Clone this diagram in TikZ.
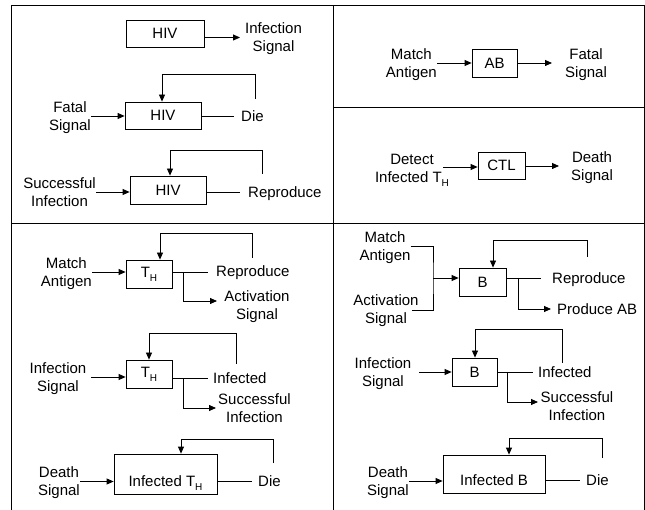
\documentclass[tikz,border=0pt]{standalone}
\usepackage{fontspec}
\setmainfont{Liberation Sans}
\usetikzlibrary{arrows.meta}
\newcommand\lowH{\raisebox{-4pt}{\fontsize{10}{10}\selectfont H}}
\begin{document}
\begin{tikzpicture}[x=1pt,y=-1pt,
  box/.style={draw,line width=0.8pt,inner sep=0pt,font=\fontsize{15}{18}\selectfont},
  lbl/.style={inner sep=0pt,align=center,text depth=0pt,font=\fontsize{15}{18}\selectfont},
  ln/.style={line width=0.8pt},
  arr/.style={line width=0.8pt,-{Triangle[length=7pt,width=6pt]}}]
\useasboundingbox (0,0) rectangle (645,510);
% frame
\draw[ln] (11,515) -- (11,5) -- (644,5) -- (644,515);
\draw[ln] (333,5) -- (333,515);
\draw[ln] (11,223) -- (644,223);
\draw[ln] (333,107) -- (644,107);

% ---------- top left ----------
\node[box,minimum width=78pt,minimum height=27pt] (hiv1) at (165,33.5) {HIV};
\node[lbl,anchor=west] (inf1) at (245,37.5) {Infection\\Signal};
\draw[arr,shorten >=5pt] (hiv1.east |- inf1.west) -- (inf1.west);

\node[lbl,anchor=east] (fs1) at (91,116) {Fatal\\Signal};
\node[box,minimum width=76pt,minimum height=27pt] (hiv2) at (163,115.5) {HIV};
\node[lbl,anchor=west] (die2) at (241,116) {Die};
\draw[arr] (fs1.east) -- (fs1.east -| hiv2.west);
\draw[ln,shorten >=7pt] (hiv2.east |- die2.west) -- (die2.west);
\coordinate (fb2) at (255,99); \coordinate (fc2) at (162,74);
\draw[arr] (fb2) |- (fc2) -- (fc2 |- hiv2.north);

\node[lbl,anchor=east] (si3) at (96,192) {Successful\\Infection};
\node[box,minimum width=76pt,minimum height=28pt] (hiv3) at (168,190) {HIV};
\node[lbl,anchor=west] (rep3) at (248,192) {Reproduce};
\draw[arr] (si3.east) -- (si3.east -| hiv3.west);
\draw[ln,shorten >=8pt] (hiv3.east |- rep3.west) -- (rep3.west);
\coordinate (fb3) at (262,174); \coordinate (fc3) at (170,150);
\draw[arr] (fb3) |- (fc3) -- (fc3 |- hiv3.north);

% ---------- top right ----------
\node[lbl,anchor=east] (ma2) at (437,63) {Match\\Antigen};
\node[box,minimum width=45pt,minimum height=28pt] (ab) at (494.5,63) {AB};
\node[lbl,anchor=west] (fs2) at (565,63) {Fatal\\Signal};
\draw[arr] (ma2.east) -- (ma2.east -| ab.west);
\draw[arr,shorten >=13pt] (ab.east |- fs2.west) -- (fs2.west);

\node[lbl] (dit) at (412,168) {Detect\\Infected T\lowH};
\node[box,minimum width=47pt,minimum height=27pt] (ctl) at (501.5,165.5) {CTL};
\node[lbl,anchor=west] (dsig) at (571,166) {Death\\Signal};
\coordinate (ci) at (443,167);
\draw[arr] (ci) -- (ci -| ctl.west);
\draw[arr,shorten >=12pt] (ctl.east |- dsig.west) -- (dsig.west);

% ---------- bottom left ----------
\node[lbl,anchor=east] (ma3) at (92,272) {Match\\Antigen};
\node[box,minimum width=46pt,minimum height=28pt] (th1) at (149,274) {T\lowH};
\node[lbl,anchor=west] (rep31) at (216,271) {Reproduce};
\node[lbl] (act3) at (257,305.5) {Activation\\Signal};
\draw[arr] (ma3.east) -- (ma3.east -| th1.west);
\draw[ln,shorten >=8pt] (th1.east |- ma3.east) -- (rep31.west |- ma3.east);
\coordinate (j31) at (183,272); \coordinate (e31) at (217,301);
\draw[arr] (j31) |- (e31);
\coordinate (fb31) at (252,258); \coordinate (fc31) at (160,233);
\draw[arr] (fb31) |- (fc31) -- (fc31 |- th1.north);

\node[lbl,anchor=east] (is32) at (86.5,377) {Infection\\Signal};
\node[box,minimum width=46pt,minimum height=28pt] (th2) at (149,374) {T\lowH};
\node[lbl,anchor=west] (inf32) at (213,378) {Infected};
\node[lbl,anchor=west] (succ32) at (218,408.5) {Successful\\Infection};
\draw[arr,shorten <=4.5pt] (is32.east) -- (is32.east -| th2.west);
\draw[ln,shorten >=5pt] (th2.east |- inf32.west) -- (inf32.west);
\coordinate (j32) at (183,378); \coordinate (e32) at (216,408);
\draw[arr] (j32) |- (e32);
\coordinate (fb32) at (236,364); \coordinate (fc32) at (149,333);
\draw[arr] (fb32) |- (fc32) -- (fc32 |- th2.north);

\node[lbl,anchor=east] (ds33) at (80,481.5) {Death\\Signal};
\node[box,minimum width=103pt,minimum height=40pt,text height=24pt,text depth=0pt] (ith) at (165.5,474) {Infected T\lowH};
\node[lbl,anchor=west] (die33) at (258,481) {Die};
\draw[arr] (ds33.east) -- (ds33.east -| ith.west);
\draw[ln,shorten >=6pt] (ith.east |- die33.west) -- (die33.west);
\coordinate (fb33) at (273,463); \coordinate (fc33) at (181,439);
\draw[arr] (fb33) |- (fc33) -- (fc33 |- ith.north);

% ---------- bottom right ----------
\node[lbl] (ma41) at (385,246) {Match\\Antigen};
\node[lbl] (as41) at (386,309) {Activation\\Signal};
\node[box,minimum width=47pt,minimum height=28pt] (b41) at (482.5,282) {B};
\node[lbl,anchor=west] (rep41) at (552,278) {Reproduce};
\node[lbl,anchor=west] (pab) at (557,309) {Produce AB};
\coordinate (bj) at (433,278); \coordinate (a41) at (412,310);
\draw[ln] (ma41.east) -| (bj) |- (a41);
\draw[arr] (bj) -- (bj -| b41.west);
\draw[ln,shorten >=11pt] (b41.east |- bj) -- (rep41.west |- bj);
\coordinate (j41) at (518,278);
\draw[arr,shorten >=6pt] (j41) |- (pab.west);
\coordinate (fb41) at (587,257); \coordinate (fc41) at (493,240);
\draw[arr] (fb41) |- (fc41) -- (fc41 |- b41.north);

\node[lbl,anchor=east] (is42) at (411.5,372) {Infection\\Signal};
\node[box,minimum width=45pt,minimum height=28pt] (b42) at (474.5,372) {B};
\node[lbl,anchor=west] (inf42) at (538,372) {Infected};
\node[lbl,anchor=west] (succ42) at (540.5,406) {Successful\\Infection};
\draw[arr,shorten <=7.5pt] (is42.east) -- (is42.east -| b42.west);
\draw[ln,shorten >=5pt] (b42.east |- inf42.west) -- (inf42.west);
\coordinate (j42) at (507,372); \coordinate (e42) at (538,402);
\draw[arr] (j42) |- (e42);
\coordinate (fb42) at (562,363); \coordinate (fc42) at (475,329);
\draw[arr] (fb42) |- (fc42) -- (fc42 |- b42.north);

\node[lbl,anchor=east] (ds43) at (409,481) {Death\\Signal};
\node[box,minimum width=102pt,minimum height=38pt,text height=23pt,text depth=0pt] (ib) at (494,474) {Infected B};
\node[lbl,anchor=west] (die43) at (586,480) {Die};
\draw[arr] (ds43.east) -- (ds43.east -| ib.west);
\draw[ln,shorten >=6pt] (ib.east |- die43.west) -- (die43.west);
\coordinate (fb43) at (602,458); \coordinate (fc43) at (509,438);
\draw[arr] (fb43) |- (fc43) -- (fc43 |- ib.north);
\end{tikzpicture}
\end{document}
